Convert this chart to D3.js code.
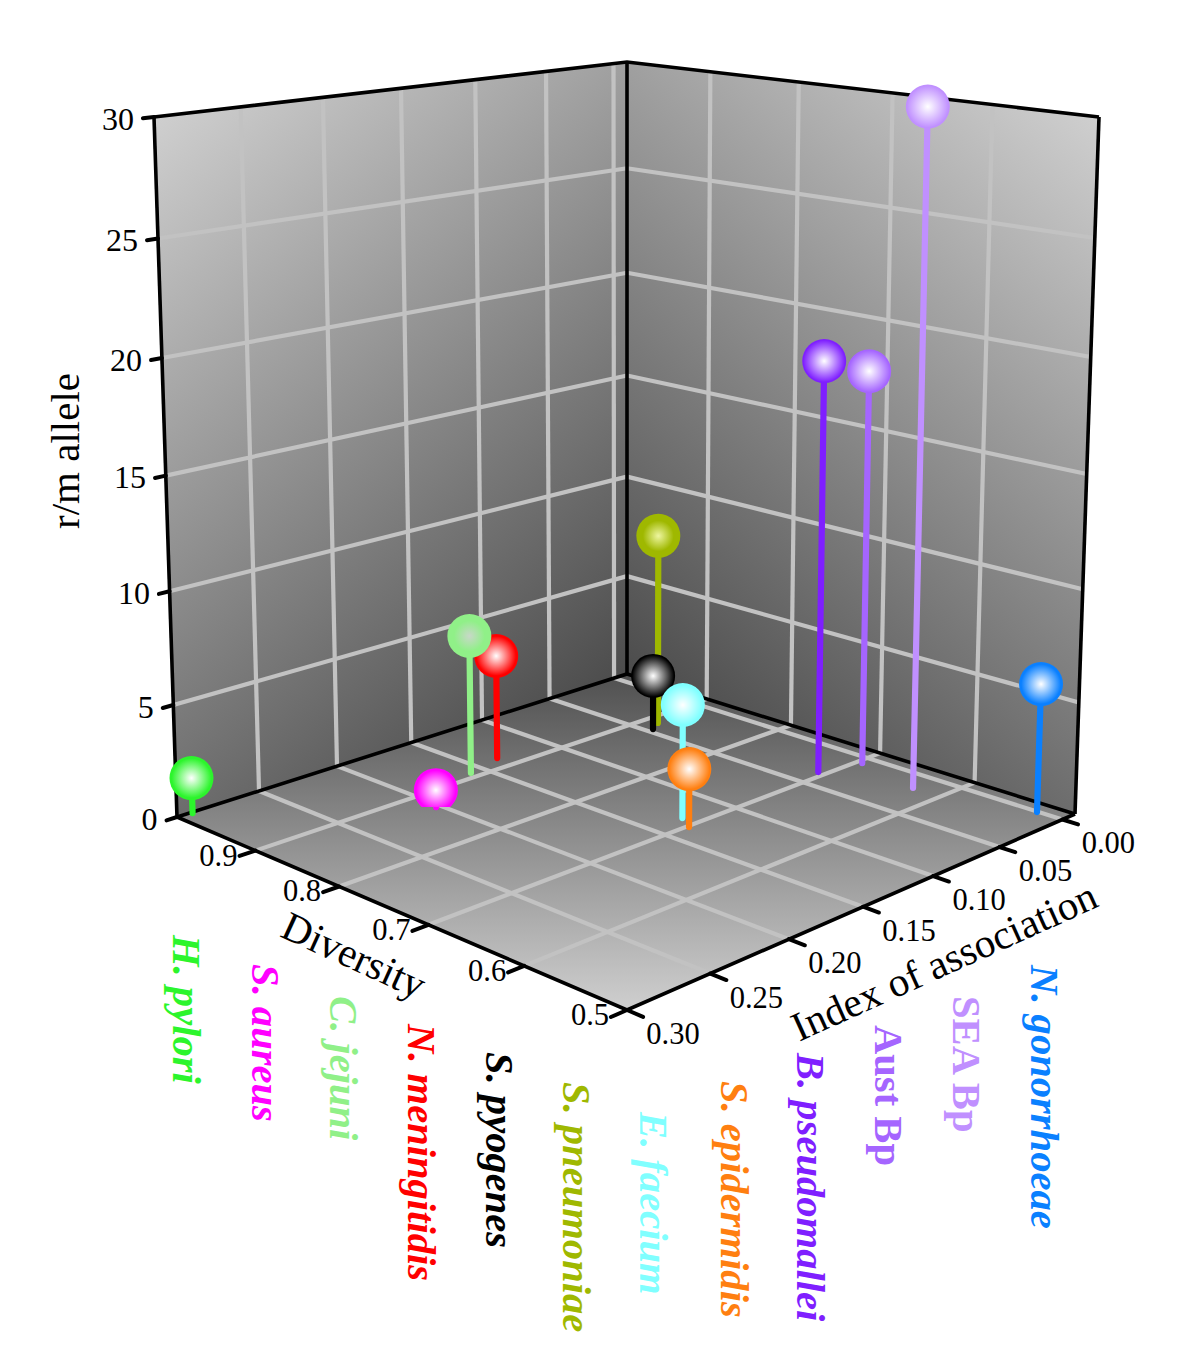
<!DOCTYPE html>
<html><head><meta charset="utf-8">
<script src="https://cdn.jsdelivr.net/npm/d3@7"></script>
<style>html,body{margin:0;background:#fff}svg{display:block}text{font-family:"Liberation Serif",serif}</style>
</head><body><svg id="c" width="1200" height="1369"></svg>
<script>
// ---- data ----
const species = ["H. pylori","S. aureus","C. jejuni","N. meningitidis","S. pyogenes","S. pneumoniae","E. faecium","S. epidermidis","B. pseudomallei","Aust Bp","SEA Bp","N. gonorrhoeae"];
const indexOfAssociation = [0.2916,0.2027,0.1586,0.1343,0.0458,0.0370,0.1284,0.1347,0.0335,0.0077,0.0174,0.0006];
const diversity = [0.998,0.871,0.909,0.920,0.878,0.886,0.715,0.698,0.707,0.695,0.628,0.524];
const rmAllele = [1.58,0.77,6.35,4.81,2.58,9.05,5.05,2.58,18.7,18.0,30.0,5.74];
const colours = ["#2cf52c","#ff00ff","#90f088","#ff0000","#000000","#9fb800","#80ffff","#ff7f10","#7f1fff","#a565ff","#c090ff","#0a80ff"];
const cores = ["#ffffff","#ffffff","#c8d8c8","#ffffff","#ffffff","#eef6a0","#ffffff","#ffffff","#ffffff","#ffffff","#ffffff","#ffffff"];
const spread = [0.9,0.9,0.7,0.9,0.95,0.7,0.9,0.92,0.95,0.95,0.95,0.9];
const upright = ["Aust Bp","SEA Bp"];
const indexTicks = [0,0.05,0.10,0.15,0.20,0.25,0.30];
const diversityTicks = [0.9,0.8,0.7,0.6,0.5];
const rmTicks = [0,5,10,15,20,25,30];
// label layout: baseline x, start y
const labelX = [173,252,330,408,486,563,640,721,797,875,953,1031];
const labelY = [935,964,996,1024,1052,1082,1112,1081,1053,1025,996,965];

// ---- scales ----
const uS = d3.scaleLinear([-0.0103,0.30],[0,1]);
const vS = d3.scaleLinear([1.0,0.5],[0,1]);
const wS = d3.scaleLinear([0,30],[0,1]);

// ---- perspective box ----
const B=[627,674],L=[177,817],R=[1075,814],F=[627,1010];
const T=[627,62],TL=[154,117],TR=[1099,117],TF=[627,194];
function homography(O,A,C,D){
  const a=[A[0]-O[0],A[1]-O[1]],c=[C[0]-O[0],C[1]-O[1]],d=[D[0]-O[0],D[1]-O[1]];
  const det3=(m)=>m[0][0]*(m[1][1]*m[2][2]-m[1][2]*m[2][1])-m[0][1]*(m[1][0]*m[2][2]-m[1][2]*m[2][0])+m[0][2]*(m[1][0]*m[2][1]-m[1][1]*m[2][0]);
  const M=[[a[0],c[0],-d[0]],[a[1],c[1],-d[1]],[1,1,-1]];
  const D0=det3(M);
  const p=det3([[0,c[0],-d[0]],[0,c[1],-d[1]],[1,1,-1]])/D0;
  const q=det3([[a[0],0,-d[0]],[a[1],0,-d[1]],[1,1,-1]])/D0;
  return (u,v)=>{const k=1+u*(p-1)+v*(q-1);return [O[0]+(u*p*a[0]+v*q*c[0])/k,O[1]+(u*p*a[1]+v*q*c[1])/k];};
}
const floorH=homography(B,L,R,F), topH=homography(T,TL,TR,TF);
const g=0.952;
function proj(u,v,w){
  const t=w*g/(1+w*(g-1));
  const a=floorH(u,v),b=topH(u,v);
  return [a[0]+(b[0]-a[0])*t,a[1]+(b[1]-a[1])*t];
}

const svg=d3.select("#c"),defs=svg.append("defs");
function linGrad(id,p0,p1,c0,c1){
  const gr=defs.append("linearGradient").attr("id",id).attr("gradientUnits","userSpaceOnUse")
   .attr("x1",p0[0]).attr("y1",p0[1]).attr("x2",p1[0]).attr("y2",p1[1]);
  gr.append("stop").attr("offset",0).attr("stop-color",c0);
  gr.append("stop").attr("offset",1).attr("stop-color",c1);
}
linGrad("gl",TL,B,"#cfcfcf","#4c4c4c");
linGrad("gr",TR,B,"#cfcfcf","#4c4c4c");
linGrad("gf",B,F,"#505050","#cfcfcf");

const poly=(pts,fill)=>svg.append("polygon").attr("points",pts.map(p=>p.join(",")).join(" ")).attr("fill",fill);
poly([TL,T,B,L],"url(#gl)");
poly([T,TR,R,B],"url(#gr)");
poly([B,R,F,L],"url(#gf)");

const line=d3.line();
const gridG=svg.append("g").attr("fill","none").attr("stroke","#c2c2c2").attr("stroke-width",4.2);
const seg=(a,b,sel=gridG)=>sel.append("path").attr("d",line([a,b]));
indexTicks.filter(d=>d<0.3).forEach(d=>{const u=uS(d);
  seg(proj(u,0,0),proj(u,0,1));
  seg(proj(u,0,0),proj(u,1,0));
});
diversityTicks.filter(d=>d>0.5).forEach(d=>{const v=vS(d);
  seg(proj(0,v,0),proj(0,v,1));
  seg(proj(0,v,0),proj(1,v,0));
});
rmTicks.filter(d=>d>0&&d<30).forEach(d=>{const w=wS(d);
  seg(proj(0,0,w),proj(1,0,w));
  seg(proj(0,0,w),proj(0,1,w));
});

// box edges
const edgeG=svg.append("g").attr("fill","none").attr("stroke","#000").attr("stroke-width",3.6).attr("stroke-linejoin","miter");
[[TL,T,TR],[TL,L],[TR,R],[T,B],[L,B,R],[L,F,R]].forEach(p=>edgeG.append("path").attr("d",line(p)));

// ticks
const tickG=svg.append("g").attr("fill","none").attr("stroke","#000").attr("stroke-width",4).attr("stroke-linecap","round");
const txt=(x,y,s,size)=>svg.append("text").attr("x",x).attr("y",y).attr("font-size",size).attr("fill","#000").attr("text-anchor","middle").attr("dominant-baseline","central").text(s);
rmTicks.forEach(d=>{const w=wS(d);const a=proj(1,0,w),b=proj(1.02,0,w);
  seg(a,b,tickG);
  svg.append("text").attr("x",b[0]-9).attr("y",a[1]+1.5).attr("font-size",32).attr("text-anchor","end").attr("dominant-baseline","central").text(d);
});
diversityTicks.forEach(d=>{const v=vS(d);const a=proj(1,v,0),b=proj(1.03,v,0);
  seg(a,b,tickG);
  txt(a[0]-37,a[1]+5,d.toFixed(1),30.5);
});
indexTicks.forEach(d=>{const u=uS(d);const a=proj(u,1,0),b=proj(u,1.03,0);
  seg(a,b,tickG);
  txt(a[0]+46,a[1]+24,d.toFixed(2),30.5);
});

// axis titles
const title=(x,y,r,s)=>svg.append("text").attr("transform",`translate(${x},${y}) rotate(${r})`).attr("font-size",41).attr("text-anchor","middle").attr("dominant-baseline","central").text(s);
title(65,451,-90,"r/m allele");
title(354,955,24.5,"Diversity");
title(944,961,-24.3,"Index of association");

// stems and spheres, far to near
const order=d3.range(species.length).sort((a,b)=>(uS(indexOfAssociation[a])+vS(diversity[a]))-(uS(indexOfAssociation[b])+vS(diversity[b])));
const r=22;
order.forEach(i=>{
  const u=uS(indexOfAssociation[i]),v=vS(diversity[i]),w=wS(rmAllele[i]);
  const base=proj(u,v,0),c=proj(u,v,w);
  const rg=defs.append("radialGradient").attr("id","s"+i);
  rg.append("stop").attr("offset",0).attr("stop-color",cores[i]);
  rg.append("stop").attr("offset",spread[i]).attr("stop-color",colours[i]);
  rg.append("stop").attr("offset",1).attr("stop-color",colours[i]);
  defs.append("clipPath").attr("id","k"+i).append("rect").attr("x",c[0]-r-2).attr("y",c[1]-r-2).attr("width",2*r+4).attr("height",Math.max(0,base[1]-c[1]+r+2));
  svg.append("path").attr("d",line([base,c])).attr("stroke",colours[i]).attr("stroke-width",6.2).attr("stroke-linecap","round").attr("fill","none");
  svg.append("circle").attr("cx",c[0]).attr("cy",c[1]).attr("r",r).attr("fill",`url(#s${i})`).attr("clip-path",`url(#k${i})`);
});

// species labels
svg.append("g").selectAll("text").data(species).join("text")
  .attr("transform",(d,i)=>`translate(${labelX[i]},${labelY[i]}) rotate(90)`)
  .attr("font-size",40.6).attr("font-weight","bold").attr("font-style",d=>upright.includes(d)?"normal":"italic")
  .attr("fill",(d,i)=>colours[i]).text(d=>d);
</script></body></html>
